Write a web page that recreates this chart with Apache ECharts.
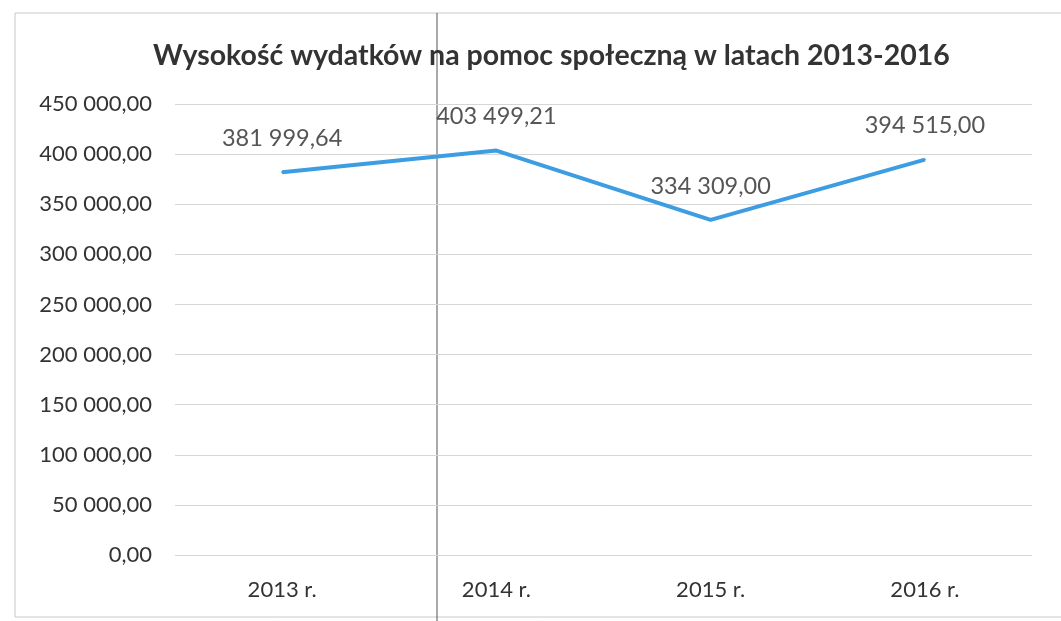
<!DOCTYPE html>
<html>
<head>
<meta charset="utf-8">
<script src="https://cdn.jsdelivr.net/npm/echarts@6/dist/echarts.min.js"></script>
<style>
  html, body { margin: 0; padding: 0; background: #fff; }
  #chart { width: 1061px; height: 621px; }
</style>
</head>
<body>
<div id="chart"></div>
<script>
var years = ['2013 r.', '2014 r.', '2015 r.', '2016 r.'];
var wydatki = [381999.64, 403499.21, 334309.00, 394515.00];

// 450 000,00 style
function plNumber(v) {
  var parts = Number(v).toFixed(2).split('.');
  var whole = parts[0].replace(/\B(?=(\d{3})+(?!\d))/g, ' ');
  return whole + ',' + parts[1];
}

var chart = echarts.init(document.getElementById('chart'));

chart.setOption({
  backgroundColor: '#fff',
  animation: false,
  title: {
    text: 'Wysokość wydatków na pomoc społeczną w latach 2013-2016',
    left: 148,
    top: 36,
    textStyle: {
      fontFamily: 'Lato',
      fontWeight: 'bold',
      fontSize: 28.5,
      color: '#333'
    }
  },
  grid: {
    left: 175,
    right: 29,
    top: 104,
    bottom: 66
  },
  xAxis: {
    type: 'category',
    data: years,
    axisLine: { show: false },
    axisTick: { show: false },
    axisLabel: {
      margin: 24,
      fontFamily: 'Lato',
      fontSize: 22,
      color: '#333'
    }
  },
  yAxis: {
    type: 'value',
    min: 0,
    max: 450000,
    interval: 50000,
    axisLine: { show: false },
    axisTick: { show: false },
    splitLine: { lineStyle: { color: '#d6d6d6', width: 1 } },
    axisLabel: {
      margin: 23,
      fontFamily: 'Lato',
      fontSize: 22,
      color: '#333',
      formatter: plNumber
    }
  },
  series: [{
    type: 'line',
    data: wydatki,
    symbol: 'circle',
    symbolSize: 2,
    itemStyle: { color: '#3d9de2' },
    lineStyle: { color: '#3d9de2', width: 4 },
    label: {
      show: true,
      position: 'top',
      distance: 21,
      fontFamily: 'Lato',
      fontSize: 23.5,
      color: '#555',
      formatter: function(p) { return plNumber(p.value); }
    }
  }],
  // frame and fold line from the scan
  graphic: [
    { type: 'rect', shape: { x: 15, y: 13, width: 1061, height: 604 },
      style: { fill: 'none', stroke: '#c8c8c8', lineWidth: 1 }, silent: true },
    { type: 'line', shape: { x1: 437, y1: 13, x2: 437, y2: 621 },
      style: { stroke: '#555', lineWidth: 1 }, silent: true }
  ]
});
</script>
</body>
</html>
